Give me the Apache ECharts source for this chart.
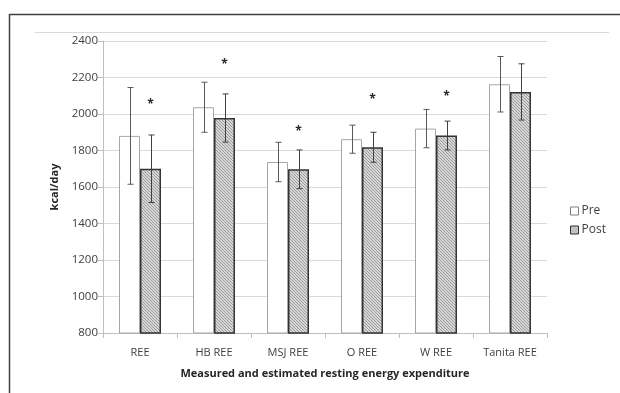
<!DOCTYPE html>
<html><head><meta charset="utf-8">
<script src="https://cdn.jsdelivr.net/npm/echarts@6/dist/echarts.min.js"></script>
<style>html,body{margin:0;padding:0;background:#fff}#c{width:620px;height:393px}</style>
</head><body><div id="c"></div>
<script>
const categories = ['REE','HB REE','MSJ REE','O REE','W REE','Tanita REE'];
const preMean = [1880, 2037, 1737, 1862, 1920, 2163];
const preSD = [265, 137, 108, 77, 105, 152];
const postMean = [1700, 1978, 1697, 1818, 1882, 2121];
const postSD = [185, 132, 106, 82, 79, 154];
const starY = [2050, 2272, 1903, 2077, 2095, null];
const yTicks = {min: 800, max: 2400, interval: 200};

function hatch() {
  const c = document.createElement('canvas');
  c.width = 3; c.height = 3;
  const g = c.getContext('2d');
  g.fillStyle = '#d6d6d6'; g.fillRect(0,0,3,3);
  g.fillStyle = '#9c9c9c';
  g.fillRect(0,0,1,1); g.fillRect(1,1,1,1); g.fillRect(2,2,1,1);
  return c;
}
const BW = 21;
const chart = echarts.init(document.getElementById('c'));
const font = "'Open Sans', sans-serif";
function errItem(means, sds, off, color) {
  return function(params, api) {
    const i = api.value(0);
    const m = means[i], s = sds[i];
    const top = api.coord([i, m + s]);
    const bot = api.coord([i, m - s]);
    const x = Math.round(top[0] + off) + 0.5;
    return {type: 'group', children: [
      {type:'line', shape:{x1:x,y1:top[1],x2:x,y2:bot[1]}, style:{stroke:color,lineWidth:1}},
      {type:'line', shape:{x1:x-3,y1:top[1],x2:x+3,y2:top[1]}, style:{stroke:color,lineWidth:1}},
      {type:'line', shape:{x1:x-3,y1:bot[1],x2:x+3,y2:bot[1]}, style:{stroke:color,lineWidth:1}}
    ]};
  };
}
chart.setOption({
  animation: false,
  grid: {left: 103, right: 73, top: 41, bottom: 60},
  graphic: [
    {type:'line', shape:{x1:9.5,y1:14.5,x2:620,y2:14.5}, style:{stroke:'#404040',lineWidth:1.5}},
    {type:'line', shape:{x1:9.5,y1:14,x2:9.5,y2:393}, style:{stroke:'#404040',lineWidth:1.5}},
    {type:'line', shape:{x1:35,y1:32.5,x2:609,y2:32.5}, style:{stroke:'#d9d9d9',lineWidth:1}}
  ],
  legend: {
    orient: 'vertical', left: 565, top: 200, itemWidth: 8, itemHeight: 8, itemGap: 7,
    icon: 'rect',
    textStyle: {fontFamily: font, fontSize: 12, color: '#404040', padding: [0,0,0,-2]},
    data: [{name:'Pre', itemStyle:{color:'#fff', borderColor:'#7f7f7f', borderWidth:1}},
           {name:'Post', itemStyle:{borderColor:'#333', borderWidth:1}}]
  },
  xAxis: {
    type: 'category', data: categories,
    name: 'Measured and estimated resting energy expenditure',
    nameLocation: 'middle', nameGap: 35,
    nameTextStyle: {fontFamily: font, fontSize: 11, fontWeight: 'bold', color: '#262626'},
    axisLine: {lineStyle: {color: '#bfbfbf'}},
    axisTick: {show: true, length: 5, lineStyle: {color: '#bfbfbf'}},
    axisLabel: {fontFamily: font, fontSize: 11, color: '#404040', margin: 14}
  },
  yAxis: {
    type: 'value', min: yTicks.min, max: yTicks.max, interval: yTicks.interval,
    name: 'kcal/day', nameLocation: 'middle', nameGap: 40,
    nameTextStyle: {fontFamily: font, fontSize: 11, fontWeight: 'bold', color: '#262626'},
    axisLine: {show: true, lineStyle: {color: '#bfbfbf'}},
    axisTick: {show: true, length: 5, lineStyle: {color: '#bfbfbf'}},
    splitLine: {lineStyle: {color: '#d9d9d9', width: 1.2}},
    axisLabel: {fontFamily: font, fontSize: 11.5, color: '#404040', margin: 5,
      formatter: v => String(v)}
  },
  series: [
    {name:'Pre', type:'bar', data: preMean, barWidth: BW, barGap: '0%',
     itemStyle: {color:'#fff', borderColor:'#a6a6a6', borderWidth:1}},
    {name:'Post', type:'bar', data: postMean, barWidth: BW,
     itemStyle: {color:{image: hatch(), repeat:'repeat'}, borderColor:'#333', borderWidth:1.5}},
    {type:'custom', silent:true, data: categories.map((c,i)=>[i]), z: 5,
     renderItem: errItem(preMean, preSD, -BW/2, '#595959')},
    {type:'custom', silent:true, data: categories.map((c,i)=>[i]), z: 5,
     renderItem: errItem(postMean, postSD, BW/2, '#404040')},
    {type:'custom', silent:true, data: categories.map((c,i)=>[i]).filter(d=>starY[d[0]]!=null), z: 5,
     renderItem: function(params, api) {
       const i = api.value(0);
       const p = api.coord([i, starY[i]]);
       return {type:'text', x: p[0] + BW/2, y: p[1],
         style:{text:'*', fontFamily: font, fontSize: 12, fontWeight:'bold', fill:'#262626', align:'center', verticalAlign:'middle'}};
     }}
  ]
});
</script></body></html>
